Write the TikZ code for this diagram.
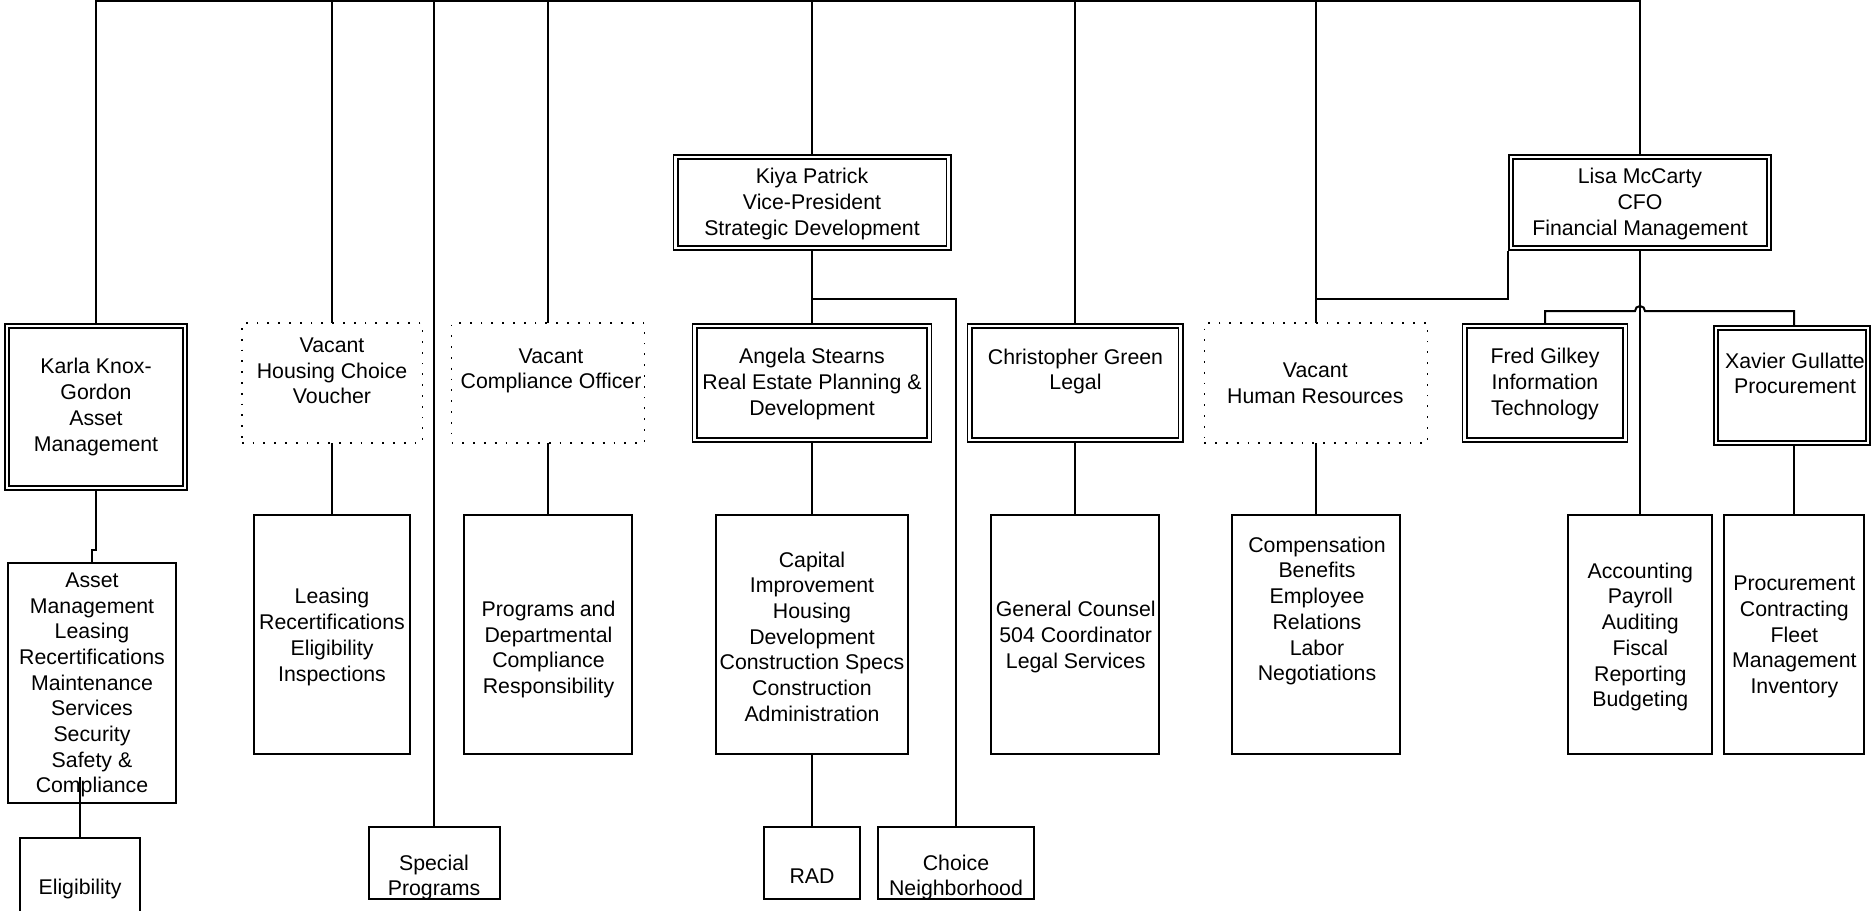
\documentclass[tikz,border=0pt]{standalone}
\usepackage{fontspec}
\setmainfont{Liberation Sans}
\begin{document}
\begin{tikzpicture}[x=1pt,y=-1pt,
  conn/.style={line width=2pt},
  dbox/.style={draw, line width=1.6pt, double=white, double distance=2.8pt, outer sep=3pt, inner sep=0pt},
  vbox/.style={draw, line width=1.5pt, dash pattern=on 1.8pt off 9pt, inner sep=0pt, outer sep=0pt},
  pbox/.style={draw, line width=2pt, inner sep=0pt, outer sep=0pt},
  lbl/.style={align=center, inner sep=0pt, font=\fontsize{21.3}{25.7}\selectfont},
]
\useasboundingbox (0,0) rectangle (1873,910);
\clip (0,0) rectangle (1873,910);

% ---- upper tier: managers ----
\node[dbox, minimum width=178pt, minimum height=162pt] (karla) at (96,407) {};
\node[lbl] (karla-t) at (96,407) {Karla Knox-\\Gordon\\Asset\\Management};

\node[vbox, minimum width=180.5pt, minimum height=120pt] (hcv) at (332,383) {};
\node[lbl] (hcv-t) at (332,371) {Vacant\\Housing Choice\\Voucher};

\node[vbox, minimum width=193pt, minimum height=120pt] (comp) at (548,383) {};
\node[lbl] (comp-t) at (551,371) {Vacant\\Compliance Officer};

\node[dbox, minimum width=273pt, minimum height=91pt] (kiya) at (812,202.5) {};
\node[lbl] (kiya-t) at (812,204) {Kiya Patrick\\Vice-President\\Strategic Development};

\node[dbox, minimum width=234.5pt, minimum height=114pt] (angela) at (812,383) {};
\node[lbl] (angela-t) at (812,384) {Angela Stearns\\Real Estate Planning \&\\Development};

\node[dbox, minimum width=211pt, minimum height=114pt] (chris) at (1075,383) {};
\node[lbl] (chris-t) at (1075.5,371.5) {Christopher Green\\Legal};

\node[vbox, minimum width=223.4pt, minimum height=120pt] (hr) at (1316,383) {};
\node[lbl] (hr-t) at (1315.3,383.5) {Vacant\\Human Resources};

\node[dbox, minimum width=258pt, minimum height=91pt] (lisa) at (1640,202.5) {};
\node[lbl] (lisa-t) at (1640,204) {Lisa McCarty\\CFO\\Financial Management};

\node[dbox, minimum width=160.5pt, minimum height=114pt] (fred) at (1545,383) {};
\node[lbl] (fred-t) at (1545,384) {Fred Gilkey\\Information\\Technology};

\node[dbox, minimum width=152pt, minimum height=115pt] (xavier) at (1792,385.5) {};
\node[lbl] (xavier-t) at (1795,373.5) {Xavier Gullatte\\Procurement};

% ---- lower tier: functions ----
\node[pbox, minimum width=168pt, minimum height=240pt] (asset) at (92,683) {};
\node[lbl] (asset-t) at (92,685) {Asset\\Management\\Leasing\\Recertifications\\Maintenance\\Services\\Security\\Safety \&\\Compliance};

\node[pbox, minimum width=120pt, minimum height=75pt] (elig) at (80,875.5) {};
\node[lbl] (elig-t) at (80,889) {Eligibility};

\node[pbox, minimum width=156.4pt, minimum height=239pt] (leasing) at (332,634.5) {};
\node[lbl] (leasing-t) at (332,637) {Leasing\\Recertifications\\Eligibility\\Inspections};

\node[pbox, minimum width=168pt, minimum height=239pt] (programs) at (548,634.5) {};
\node[lbl] (programs-t) at (548.5,649.5) {Programs and\\Departmental\\Compliance\\Responsibility};

\node[pbox, minimum width=131pt, minimum height=72pt] (special) at (434,863) {};
\node[lbl] (special-t) at (434,877.5) {Special\\Programs};

\node[pbox, minimum width=192.4pt, minimum height=239pt] (capital) at (812,634.5) {};
\node[lbl] (capital-t) at (812,636.5) {Capital\\Improvement\\Housing\\Development\\Construction Specs\\Construction\\Administration};

\node[pbox, minimum width=96pt, minimum height=72pt] (rad) at (812,863) {};
\node[lbl] (rad-t) at (812,876) {RAD};

\node[pbox, minimum width=156.3pt, minimum height=72pt] (choice) at (956,863) {};
\node[lbl] (choice-t) at (956,877.5) {Choice\\Neighborhood};

\node[pbox, minimum width=168.5pt, minimum height=239pt] (counsel) at (1075,634.5) {};
\node[lbl] (counsel-t) at (1075.75,637) {General Counsel\\504 Coordinator\\Legal Services};

\node[pbox, minimum width=168.3pt, minimum height=239pt] (compens) at (1316,634.5) {};
\node[lbl] (compens-t) at (1317,611) {Compensation\\Benefits\\Employee\\Relations\\Labor\\Negotiations};

\node[pbox, minimum width=144.6pt, minimum height=239pt] (accounting) at (1640,634.5) {};
\node[lbl] (accounting-t) at (1640.3,637) {Accounting\\Payroll\\Auditing\\Fiscal\\Reporting\\Budgeting};

\node[pbox, minimum width=140.7pt, minimum height=239pt] (procure) at (1794,634.5) {};
\node[lbl] (procure-t) at (1794.35,637) {Procurement\\Contracting\\Fleet\\Management\\Inventory};

% ---- connectors ----
\coordinate (bus) at (0,1);
\coordinate (midrow) at (0,299);
\coordinate (hop) at (lisa.south |- 0,311);

\draw[conn] (karla.north) |- (lisa.north |- bus) -- (lisa.north);
\draw[conn] (hcv.north |- bus) -- (hcv.north);
\draw[conn] (special.north |- bus) -- (special.north);
\draw[conn] (comp.north |- bus) -- (comp.north);
\draw[conn] (kiya.north |- bus) -- (kiya.north);
\draw[conn] (chris.north |- bus) -- (chris.north);
\draw[conn] (hr.north |- bus) -- (hr.north);

\draw[conn] (karla.south) -- (karla.south |- 0,550) -| (asset.north);
\draw[conn] (elig.north |- 0,777) -- (elig.north);
\draw[conn] (hcv.south) -- (leasing.north);
\draw[conn] (comp.south) -- (programs.north);

\draw[conn] (kiya.south) -- (angela.north);
\draw[conn] (kiya.south |- midrow) -| (choice.north);
\draw[conn] (angela.south) -- (capital.north);
\draw[conn] (capital.south) -- (rad.north);

\draw[conn] (chris.south) -- (counsel.north);
\draw[conn] (hr.south) -- (compens.north);
\draw[conn] (lisa.south west) |- (hr.north |- midrow);

\draw[conn] (lisa.south) -- (accounting.north);
\draw[conn] (fred.north) -- (fred.north |- hop) -- ([xshift=-5pt]hop)
  arc[start angle=180, end angle=0, radius=5pt] -- (procure.north |- hop) -- (procure.north |- xavier.north);
\draw[conn] (procure.north |- xavier.south) -- (procure.north);
\end{tikzpicture}
\end{document}
